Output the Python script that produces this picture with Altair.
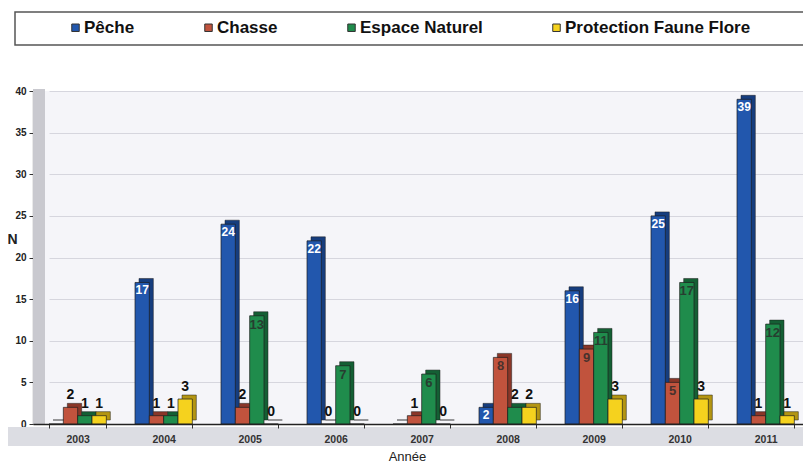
import altair as alt
import pandas as pd

years = ["2003", "2004", "2005", "2006", "2007", "2008", "2009", "2010", "2011"]
series = ["Pêche", "Chasse", "Espace Naturel", "Protection Faune Flore"]
peche = [0, 17, 24, 22, 0, 2, 16, 25, 39]
chasse = [2, 1, 2, 0, 1, 8, 9, 5, 1]
espace = [1, 1, 13, 7, 6, 2, 11, 17, 12]
protection = [1, 3, 0, 0, 0, 2, 3, 3, 1]
colors = ["#2257ad", "#c1533d", "#1f8c4c", "#f5d21e"]
dark_colors = ["#163d7e", "#8a3628", "#145f34", "#b39512"]

rows = []
for s, vals in zip(series, [peche, chasse, espace, protection]):
    for yr, v in zip(years, vals):
        rows.append({"Année": yr, "Série": s, "N": v, "Slot": yr + "|" + s})
df = pd.DataFrame(rows)

W, H = 770, 333
FONT = "Liberation Sans"

# band layout: step between years, offset of first group, gap = 2 bar widths
STEP, START, PI = 86.0, 16.0, 1.0 / 3.0
PO = (W / STEP - (len(years) - PI)) / 2
ALIGN = START / (W - STEP * (len(years) - PI))
slot_domain = [yr + "|" + s for yr in years for s in series + ["_g1", "_g2"]]

x_enc = alt.X(
    "Année:N", sort=years,
    scale=alt.Scale(paddingInner=PI, paddingOuter=PO, align=ALIGN),
    axis=alt.Axis(
        orient="bottom",
        title="Année", labelAngle=0, labelFont=FONT, labelFontWeight="bold",
        labelFontSize=10.5, labelColor="#333", labelPadding=6,
        domainColor="#222", domainWidth=1.5, ticks=True, tickBand="extent",
        tickSize=4, tickColor="#333", titleFont=FONT, titleFontSize=13,
        titleFontWeight="normal", titleColor="#222", titlePadding=6,
        titleX=374, zindex=1,
    ),
)
xo_enc = alt.XOffset("Série:N", sort=series,
                     scale=alt.Scale(domain=series, paddingInner=0, paddingOuter=0))
y_enc = alt.Y(
    "N:Q", scale=alt.Scale(domain=[0, 40], nice=False),
    axis=alt.Axis(
        values=list(range(0, 41, 5)), title="N", titleAngle=0, titleAlign="left",
        titleBaseline="middle", titleX=-26, titleY=148, titleFont=FONT,
        titleFontSize=14, titleFontWeight="bold", titleColor="#222",
        labelFont=FONT, labelFontSize=10, labelFontWeight="bold", labelColor="#222",
        labelPadding=3, tickSize=4, tickColor="#333", domainColor="#333",
        domainWidth=1.2, grid=True, gridColor="#d6d6de", gridWidth=1,
    ),
)

legend = alt.Legend(
    title=None, orient="none", legendX=34, legendY=-72, direction="horizontal",
    symbolType="square", symbolSize=56, symbolStrokeColor="#333",
    symbolStrokeWidth=1, labelFont=FONT, labelFontSize=17, labelFontWeight="bold",
    labelColor="#111", labelOffset=0, columnPadding=65, labelLimit=400,
)

box = alt.Chart(pd.DataFrame({"k": [0]})).mark_rect(
    fill="white", stroke="#555", strokeWidth=1.5
).encode(x=alt.value(-18), x2=alt.value(775), y=alt.value(-79), y2=alt.value(-46))

floor = alt.Chart(pd.DataFrame({"k": [0]})).mark_rect(fill="#dcdde3").encode(
    x=alt.value(-26), x2=alt.value(772), y=alt.value(H + 3), y2=alt.value(H + 22)
)

wall = alt.Chart(pd.DataFrame({"k": [0]})).mark_rect(fill="#c9c9cf").encode(
    x=alt.value(0), x2=alt.value(12), y=alt.value(-2), y2=alt.value(H)
)

shadow = alt.Chart(df).mark_bar(
    xOffset=4, yOffset=-4, y2Offset=-4, stroke="#1e1e1e", strokeWidth=0.5
).encode(
    x=alt.X("Slot:N", axis=None,
            scale=alt.Scale(domain=slot_domain, paddingInner=0, paddingOuter=0,
                            range=[START, START + STEP * len(years)])),
    y=y_enc,
    color=alt.Color("Série:N",
                    scale=alt.Scale(domain=series, range=dark_colors),
                    legend=None),
)

base = alt.Chart(df).encode(x=x_enc, xOffset=xo_enc, y=y_enc)

bars = base.mark_bar(stroke="#1e1e1e", strokeWidth=0.7).encode(
    color=alt.Color("Série:N", sort=series,
                    scale=alt.Scale(domain=series, range=colors), legend=legend)
)

txt_blue = base.transform_filter(
    "datum['Série'] == 'Pêche' && datum.N > 0"
).mark_text(font=FONT, fontSize=12, fontWeight="bold", color="white",
            baseline="top", dy=3).encode(text="N:Q")

txt_in = base.transform_filter(
    "datum['Série'] != 'Pêche' && datum.N >= 5"
).mark_text(font=FONT, fontSize=13, fontWeight="bold", color="#2a2a2a",
            opacity=0.8, baseline="top", dy=3).encode(text="N:Q")

txt_out = base.transform_filter(
    "datum['Série'] != 'Pêche' && datum.N < 5"
).mark_text(font=FONT, fontSize=14, fontWeight="bold", color="#111",
            baseline="bottom", dy=-5).encode(text="N:Q")

main = alt.layer(bars, txt_blue, txt_in, txt_out)

chart = alt.layer(box, floor, wall, shadow, main).resolve_scale(
    color="independent", x="independent"
).properties(
    width=W, height=H,
    padding={"left": 25, "top": 83, "right": 0, "bottom": 40},
    autosize=alt.AutoSizeParams(type="none"),
    background="white",
).configure_view(fill="#f5f5f9", stroke=None)

chart.save("out.html", embed_options={"renderer": "svg", "actions": False})
